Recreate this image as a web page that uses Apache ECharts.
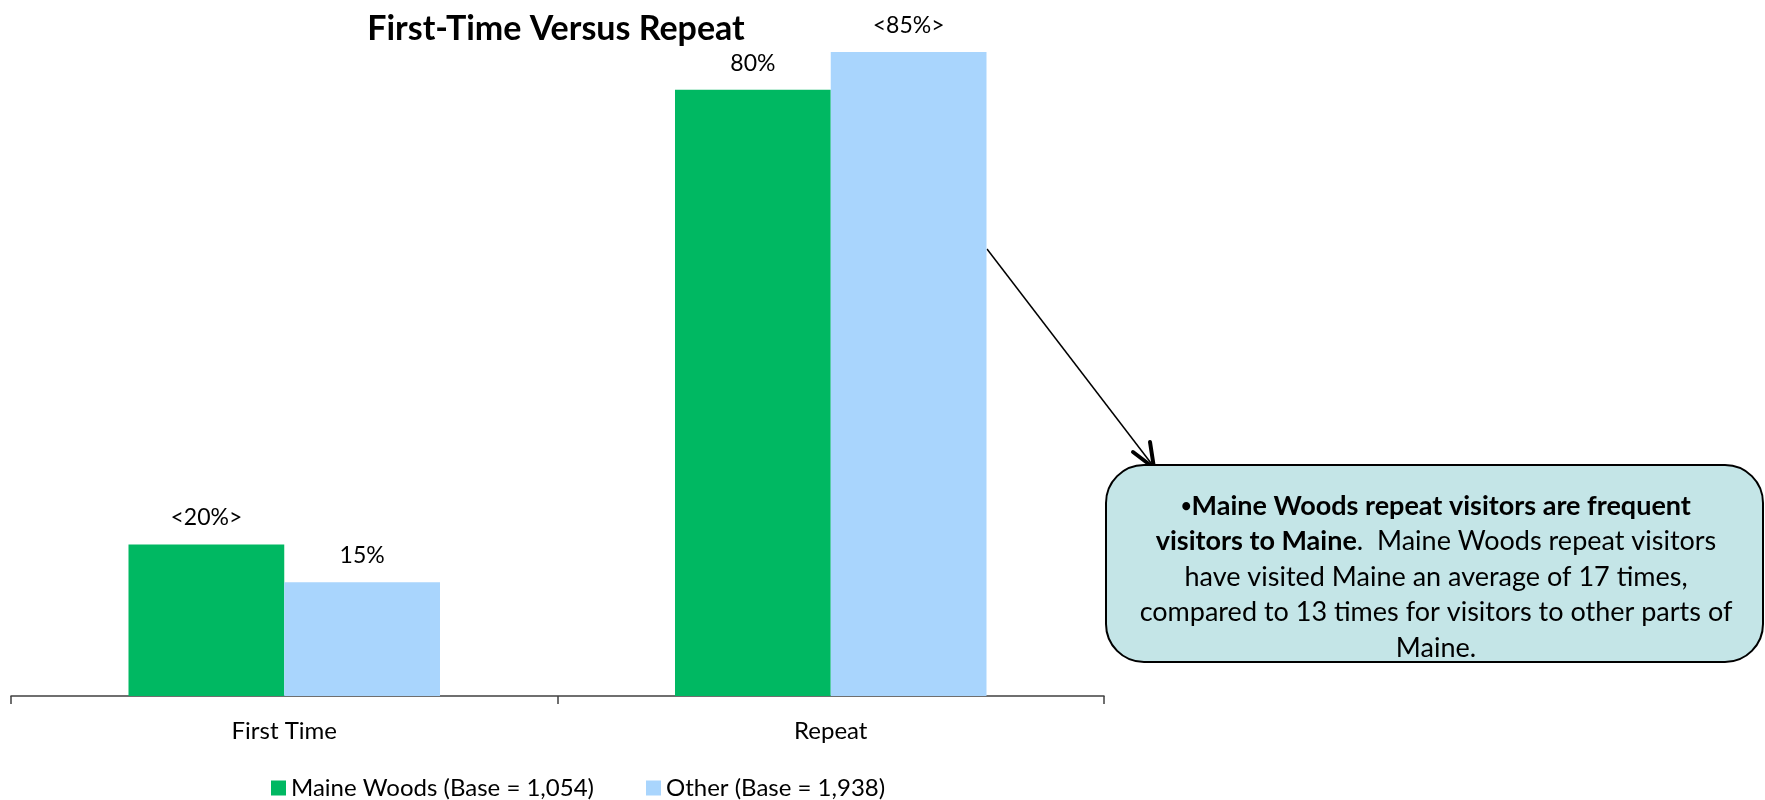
<!DOCTYPE html>
<html>
<head>
<meta charset="utf-8">
<script src="https://cdn.jsdelivr.net/npm/echarts@6/dist/echarts.min.js"></script>
<style>
html, body { margin: 0; padding: 0; background: #fff; }
#main { width: 1765px; height: 800px; }
</style>
</head>
<body>
<div id="main"></div>
<script>
// data
var categories = ['First Time', 'Repeat'];
var seriesNames = ['Maine Woods (Base = 1,054)', 'Other (Base = 1,938)'];
var maineWoods = [20, 80];
var other = [15, 85];
// significance markers, shown as <xx%>
var maineSig = [true, false];
var otherSig = [false, true];

var FONT = 'Lato';

function pctLabel(sig) {
    return function (p) {
        return sig[p.dataIndex] ? '<' + p.value + '%>' : p.value + '%';
    };
}

var myChart = echarts.init(document.getElementById('main'));
var option = {
    backgroundColor: '#fff',
    animation: false,
    textStyle: { fontFamily: FONT },
    title: {
        text: 'First-Time Versus Repeat',
        left: 551,
        top: 7,
        textAlign: 'center',
        textStyle: { fontFamily: FONT, fontSize: 34, fontWeight: 'bold', color: '#000' }
    },
    legend: {
        left: 266,
        top: 771,
        itemWidth: 15,
        itemHeight: 15,
        itemGap: 52,
        icon: 'rect',
        textStyle: { fontFamily: FONT, fontSize: 24, color: '#000' },
        data: seriesNames
    },
    grid: { left: 11, right: 661, top: 14, bottom: 104 },
    xAxis: {
        type: 'category',
        data: categories,
        axisLine: { lineStyle: { color: '#404040', width: 1.5 } },
        axisTick: { show: true, length: 8, lineStyle: { color: '#404040', width: 1.5 } },
        axisLabel: { margin: 23, fontFamily: FONT, fontSize: 24, color: '#000' }
    },
    yAxis: {
        type: 'value',
        min: 0,
        max: 90,
        show: false,
        splitLine: { show: false }
    },
    series: [
        {
            name: seriesNames[0],
            type: 'bar',
            data: maineWoods,
            barGap: '0%',
            barCategoryGap: '43%',
            itemStyle: { color: '#00B862' },
            label: {
                show: true, position: 'top', distance: 15,
                fontFamily: FONT, fontSize: 23, color: '#000',
                formatter: pctLabel(maineSig)
            }
        },
        {
            name: seriesNames[1],
            type: 'bar',
            data: other,
            barGap: '0%',
            barCategoryGap: '43%',
            itemStyle: { color: '#A9D5FD' },
            label: {
                show: true, position: 'top', distance: 15,
                fontFamily: FONT, fontSize: 23, color: '#000',
                formatter: pctLabel(otherSig)
            }
        }
    ],
    graphic: [
        {
            type: 'line',
            shape: { x1: 987, y1: 249, x2: 1154, y2: 467 },
            style: { stroke: '#000', lineWidth: 1.5 }
        },
        {
            type: 'polyline',
            shape: { points: [[1133, 452], [1154, 468], [1150, 442]] },
            style: { stroke: '#000', lineWidth: 4, fill: null, lineJoin: 'round', lineCap: 'round' }
        },
        {
            type: 'rect',
            shape: { x: 1106, y: 465, width: 657, height: 197, r: 38 },
            style: { fill: '#C4E5E7', stroke: '#000', lineWidth: 2 }
        },
        {
            type: 'text',
            x: 1436,
            y: 577,
            style: {
                text: '{s|\u2022}{b|Maine Woods repeat visitors are frequent}\n' +
                      '{b|visitors to Maine}{n|.  Maine Woods repeat visitors}\n' +
                      '{n|have visited Maine an average of 17 times,}\n' +
                      '{n|compared to 13 times for visitors to other parts of}\n' +
                      '{n|Maine.}',
                align: 'center',
                verticalAlign: 'middle',
                rich: {
                    s: { fontFamily: FONT, fontSize: 18, fontWeight: 'bold', color: '#000', lineHeight: 35.5 },
                    b: { fontFamily: FONT, fontSize: 27, fontWeight: 'bold', color: '#000', lineHeight: 35.5 },
                    n: { fontFamily: FONT, fontSize: 27, color: '#000', lineHeight: 35.5 }
                }
            }
        }
    ]
};
myChart.setOption(option);
</script>
</body>
</html>
